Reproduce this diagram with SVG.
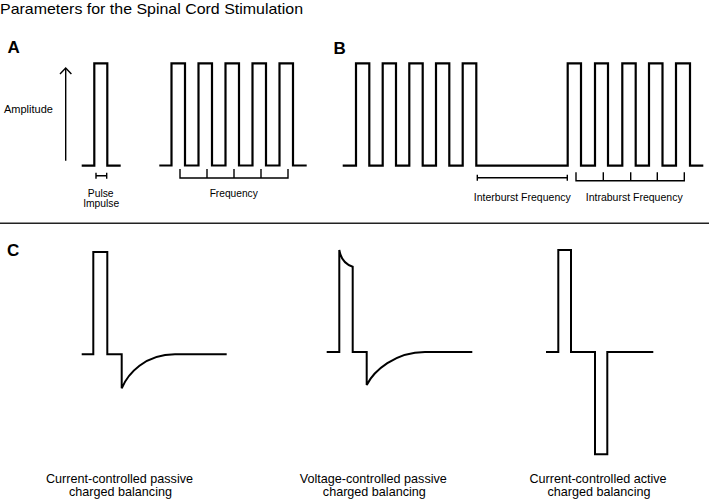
<svg xmlns="http://www.w3.org/2000/svg" width="709" height="500" viewBox="0 0 709 500">
<style>
  .wave { fill: none; stroke: #000; stroke-width: 2.2; stroke-linejoin: miter; }
  .wavec { fill: none; stroke: #000; stroke-width: 2; stroke-linejoin: miter; }
  .brk { fill: none; stroke: #000; stroke-width: 1.4; }
  .rule { fill: none; stroke: #222; stroke-width: 1.5; }
  .title { font-family: "Liberation Sans", Arial, sans-serif; font-size: 15px; fill: #000; }
  .head { font-family: "Liberation Sans", Arial, sans-serif; font-size: 17px; font-weight: bold; fill: #000; }
  .lbl { font-family: "Liberation Sans", Arial, sans-serif; font-size: 10.5px; fill: #000; }
  .cap { font-family: "Liberation Sans", Arial, sans-serif; font-size: 12.6px; fill: #000; text-anchor: middle; }
  .mid { text-anchor: middle; }
</style>
<rect width="709" height="500" fill="#fff"/>
<text class="title" x="0" y="14" textLength="303" lengthAdjust="spacingAndGlyphs">Parameters for the Spinal Cord Stimulation</text>

<g id="panelA">
  <text class="head" x="7.5" y="53">A</text>
  <g id="amplitude-axis">
    <path class="brk" d="M65.7,160.7 V68.5" stroke-width="1.6"/>
    <polyline class="brk" points="60,74 65.7,68 71.4,74" stroke-width="1.6"/>
    <text class="lbl" x="4" y="112.7" style="font-size:11px">Amplitude</text>
  </g>
  <g id="single-pulse">
    <path class="wave" d="M81.7,165.7 H94.3 V63.3 H107.3 V165.7 H120.7"/>
    <path class="brk" d="M96,175.7 H106.7 M96,172.7 V178.7 M106.7,172.7 V178.7"/>
    <text class="lbl mid" x="100.7" y="196.7" style="font-size:10.3px">Pulse</text>
    <text class="lbl mid" x="101.2" y="207.3" style="font-size:10.3px">Impulse</text>
  </g>
  <g id="pulse-train">
    <path class="wave" d="M159.3,165.5 H171.5 V63.3 H185 V165.5 H198.5 V63.3 H212 V165.5 H225.5 V63.3 H239 V165.5 H252.5 V63.3 H266 V165.5 H279.5 V63.3 H293 V165.5 H306.7"/>
    <path class="brk" d="M180,169 V178 H288 V169 M207,169 V178 M234,169 V178 M261,169 V178"/>
    <text class="lbl mid" x="233.7" y="197" style="font-size:10.2px">Frequency</text>
  </g>
</g>

<g id="panelB">
  <text class="head" x="333.5" y="53.5">B</text>
  <g id="burst-train">
    <path class="wave" d="M342.7,165.7 H356 V63.3 H369.3 V165.7 H382.7 V63.3 H396 V165.7 H409.3 V63.3 H422.7 V165.7 H436 V63.3 H449.3 V165.7 H462.7 V63.3 H476.3 V165.7 H567.7 V63.3 H581 V165.7 H595 V63.3 H608 V165.7 H622.3 V63.3 H635.7 V165.7 H649 V63.3 H662.5 V165.7 H676 V63.3 H690 V165.7 H703.3"/>
  </g>
  <g id="interburst">
    <path class="brk" d="M477.3,177.7 H567.3 M477.3,174.7 V180.7 M567.3,174.7 V180.7"/>
    <text class="lbl mid" x="522.3" y="200.5">Interburst Frequency</text>
  </g>
  <g id="intraburst">
    <path class="brk" d="M576,172.3 V180.7 H684.3 V172.3 M603.3,172.3 V180.7 M630.7,172.3 V180.7 M657.3,172.3 V180.7"/>
    <text class="lbl mid" x="634.2" y="200.5">Intraburst Frequency</text>
  </g>
</g>

<path class="rule" d="M0,223.3 H709"/>

<g id="panelC">
  <text class="head" x="7" y="256">C</text>
  <g id="current-passive">
    <path class="wavec" d="M81.7,354.3 H93.3 V252 H107.3 V354.3 H121.7 V388.3 C128,373.6 145,354.3 175,354.3 H226.7"/>
    <text class="cap" x="119.5" y="482.5">Current-controlled passive</text>
    <text class="cap" x="120.5" y="495.5">charged balancing</text>
  </g>
  <g id="voltage-passive">
    <path class="wavec" d="M326.7,352 H339.3 V250 C340.5,257 344,264 352.7,266.7 V352 H366.7 V385 C374,370.8 395,352 425,352 H472.3"/>
    <text class="cap" x="373.3" y="482.5">Voltage-controlled passive</text>
    <text class="cap" x="374.3" y="495.5">charged balancing</text>
  </g>
  <g id="current-active">
    <path class="wavec" d="M546,352 H558.3 V250 H571 V352 H595 V454.3 H607.3 V352 H653.3"/>
    <text class="cap" x="598" y="482.5">Current-controlled active</text>
    <text class="cap" x="599" y="495.5">charged balancing</text>
  </g>
</g>
</svg>
